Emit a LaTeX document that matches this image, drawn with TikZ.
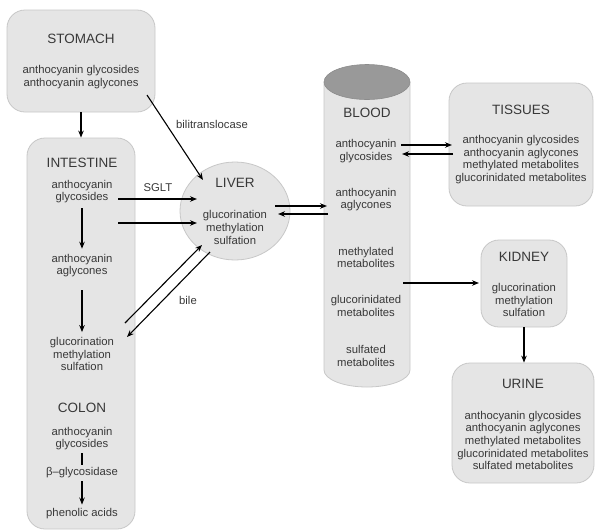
\documentclass[tikz,border=0pt]{standalone}
\usepackage{fontspec}
\setmainfont{Liberation Sans}
\usepackage{tikz}
\usetikzlibrary{arrows.meta, shapes.geometric, calc}

\begin{document}
\begin{tikzpicture}[x=1pt, y=-1pt,
        organ/.style={draw=black!22, fill=black!10, rounded corners=18pt, line width=0.8pt},
        title/.style={font=\fontsize{13.5}{15}\selectfont, text=black!78, inner sep=1pt},
        txt/.style={font=\fontsize{11.3}{12.6}\selectfont, align=center, text=black!78, inner sep=1pt},
        arr/.style={-{Stealth[length=7pt, width=5.5pt]}, line width=1.1pt}]
        \useasboundingbox (0,0) rectangle (595,531);

        \node[organ, minimum width=148, minimum height=102] (stomach) at (81,61) {};
        \node[organ, minimum width=108, minimum height=391] (intestine) at (81,333.5) {};
        \node[organ, minimum width=144, minimum height=123] (tissues) at (521,144.5) {};
        \node[organ, minimum width=86, minimum height=87] (kidney) at (524,283.5) {};
        \node[organ, minimum width=142, minimum height=120] (urine) at (523,423) {};
        \node[ellipse, draw=black!22, fill=black!10, line width=0.8pt,
              minimum width=110, minimum height=98, inner sep=0pt] (liver) at (235,211) {};

        \filldraw[fill=black!10, draw=black!22, line width=0.8pt] (324,82) -- (324,370)
            arc[start angle=180, end angle=360, x radius=43pt, y radius=17pt] -- (410,82) -- cycle;
        \filldraw[fill=black!40, draw=black!45, line width=0.6pt] (367,82) ellipse[x radius=43pt, y radius=17.5pt];

        \node[title] (stomachT) at (81,39) {STOMACH};
        \node[txt] (stomachB) at (81,77) {anthocyanin glycosides\\anthocyanin aglycones};

        \node[title] (intestineT) at (82,163) {INTESTINE};
        \node[txt] (ig) at (82,191.5) {anthocyanin\\glycosides};
        \node[txt] (ia) at (82,265.5) {anthocyanin\\aglycones};
        \node[txt] (im) at (82,354) {glucorination\\methylation\\sulfation};
        \node[title] (colonT) at (82,408) {COLON};
        \node[txt] (cg) at (82,438.5) {anthocyanin\\glycosides};
        \node[txt] (beta) at (82,473) {β–glycosidase};
        \node[txt] (pa) at (82,514) {phenolic acids};

        \node[title] (liverT) at (235,183) {LIVER};
        \node[txt] (liverB) at (235,227.5) {glucorination\\methylation\\sulfation};

        \node[title] (bloodT) at (367,113) {BLOOD};
        \node[txt] (bg) at (366,151) {anthocyanin\\glycosides};
        \node[txt] (ba) at (366,199.5) {anthocyanin\\aglycones};
        \node[txt] (bm) at (366,257.5) {methylated\\metabolites};
        \node[txt] (bgl) at (366,306) {glucorinidated\\metabolites};
        \node[txt] (bs) at (366,356) {sulfated\\metabolites};

        \node[title] (tissuesT) at (521,110) {TISSUES};
        \node[txt] (tissuesB) at (521,159.5) {anthocyanin glycosides\\anthocyanin aglycones\\methylated metabolites\\glucorinidated metabolites};
        \node[title] (kidneyT) at (524,257) {KIDNEY};
        \node[txt] (kidneyB) at (524,300) {glucorination\\methylation\\sulfation};
        \node[title] (urineT) at (523,384) {URINE};
        \node[txt] (urineB) at (523,440.5) {anthocyanin glycosides\\anthocyanin aglycones\\methylated metabolites\\glucorinidated metabolites\\sulfated metabolites};

        \node[txt] (bilitrans) at (212,124) {bilitranslocase};
        \node[txt] (sglt) at (158,188) {SGLT};
        \node[txt] (bile) at (188,300) {bile};

        \coordinate (bt) at (147,95);
        \coordinate (bt2) at (203,180);
        \coordinate (s1) at (118,199);
        \coordinate (s1e) at (197,199);
        \coordinate (s2) at (118,223);
        \coordinate (s2e) at (197,223);
        \coordinate (b1) at (125,323);
        \coordinate (b1e) at (202,245);
        \coordinate (b2) at (210,252);
        \coordinate (b2e) at (127,337);
        \coordinate (lb1) at (275,206);
        \coordinate (lb1e) at (327,206);
        \coordinate (lb2) at (328,214);
        \coordinate (lb2e) at (278,214);
        \coordinate (bt1) at (401,145);
        \coordinate (bt1e) at (452,145);
        \coordinate (bt3) at (453,154);
        \coordinate (bt3e) at (402,154);
        \coordinate (bk) at (403,283);
        \coordinate (bke) at (479,283);

        \draw[arr] (stomach.south) -- (intestine.north);
        \draw[arr, shorten <=4pt, shorten >=4pt] (ig) -- (ia);
        \draw[arr, shorten <=12pt, shorten >=4pt] (ia) -- (im);
        \draw[line width=1.1pt, shorten <=2pt, shorten >=2pt] (cg) -- (beta);
        \draw[arr, shorten <=2pt, shorten >=3pt] (beta) -- (pa);
        \draw[arr] (bt) -- (bt2);
        \draw[arr] (s1) -- (s1e);
        \draw[arr] (s2) -- (s2e);
        \draw[arr] (b1) -- (b1e);
        \draw[arr] (b2) -- (b2e);
        \draw[arr] (lb1) -- (lb1e);
        \draw[arr] (lb2) -- (lb2e);
        \draw[arr] (bt1) -- (bt1e);
        \draw[arr] (bt3) -- (bt3e);
        \draw[arr] (bk) -- (bke);
        \draw[arr] (kidney.south) -- (kidney.south |- urine.north);

    \end{tikzpicture}
\end{document}
